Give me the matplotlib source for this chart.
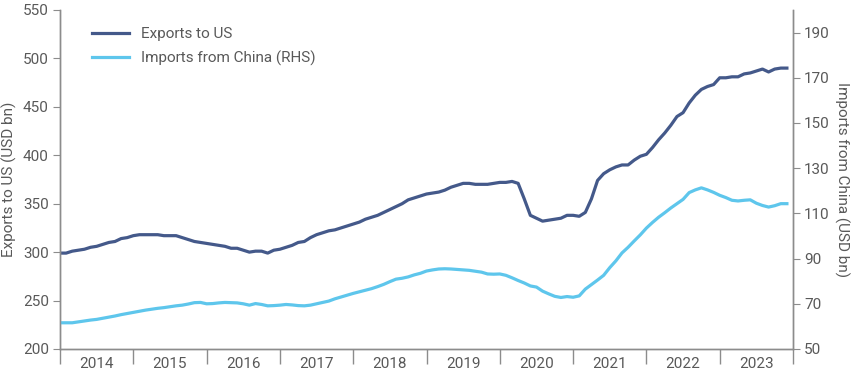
import numpy as np
import matplotlib.pyplot as plt

plt.rcParams['font.family'] = ['Liberation Sans Narrow', 'Roboto', 'DejaVu Sans']

years = list(range(2014, 2024))

# monthly, Jan 2014 - Dec 2023
exports_us = [
    299, 299, 301, 302, 303, 305, 306, 308, 310, 311, 314, 315,
    317, 318, 318, 318, 318, 317, 317, 317, 315, 313, 311, 310,
    309, 308, 307, 306, 304, 304, 302, 300, 301, 301, 299, 302,
    303, 305, 307, 310, 311, 315, 318, 320, 322, 323, 325, 327,
    329, 331, 334, 336, 338, 341, 344, 347, 350, 354, 356, 358,
    360, 361, 362, 364, 367, 369, 371, 371, 370, 370, 370, 371,
    372, 372, 373, 371, 355, 338, 335, 332, 333, 334, 335, 338,
    338, 337, 341, 355, 374, 381, 385, 388, 390, 390, 395, 399,
    401, 408, 416, 423, 431, 440, 444, 454, 462, 468, 471, 473,
    480, 480, 481, 481, 484, 485, 487, 489, 486, 489, 490, 490,
]

imports_china = [
    61.6, 61.6, 61.6, 62.0, 62.4, 62.8, 63.1, 63.6, 64.1, 64.6, 65.2, 65.7,
    66.2, 66.7, 67.2, 67.6, 68.0, 68.3, 68.7, 69.1, 69.4, 69.9, 70.5, 70.6,
    70.0, 70.1, 70.4, 70.6, 70.5, 70.4, 70.0, 69.4, 70.1, 69.7, 69.1, 69.2,
    69.4, 69.7, 69.5, 69.2, 69.1, 69.4, 70.0, 70.6, 71.2, 72.2, 73.0, 73.8,
    74.6, 75.3, 76.0, 76.7, 77.6, 78.6, 79.8, 80.9, 81.3, 81.9, 82.8, 83.5,
    84.5, 85.0, 85.4, 85.5, 85.4, 85.2, 85.0, 84.8, 84.4, 84.0, 83.2, 83.1,
    83.2, 82.6, 81.5, 80.3, 79.2, 77.9, 77.4, 75.6, 74.4, 73.3, 72.8, 73.2,
    72.9, 73.5, 76.5, 78.5, 80.5, 82.6, 86.0, 89.0, 92.5, 95.0, 97.8, 100.5,
    103.5, 106.0, 108.3, 110.3, 112.4, 114.3, 116.2, 119.2, 120.4, 121.3, 120.4, 119.3,
    118.0, 117.0, 115.8, 115.5, 115.8, 116.0, 114.5, 113.5, 112.8, 113.4, 114.3, 114.3,
]

t = 2014 + np.arange(len(exports_us)) / 12

dark = '#44598a'
light = '#5ec6ec'
grey = '#595959'
spine = '#8c8c8c'

fig = plt.figure(figsize=(8.55, 3.81), dpi=100)
ax = fig.add_axes([0.0702, 0.084, 0.8573, 0.8898])
ax2 = ax.twinx()

l1, = ax.plot(t, exports_us, color=dark, lw=2.3, label='Exports to US')
l2, = ax2.plot(t, imports_china, color=light, lw=2.3, label='Imports from China (RHS)')

ax.set_xlim(2014, 2024)
ax.set_ylim(200, 550)
ax2.set_ylim(50, 200)
ax.set_yticks(range(200, 551, 50))
ax2.set_yticks(range(50, 191, 20))

ax.set_xticks(range(2014, 2025))
ax.set_xticklabels([])
ax.set_xticks([y + 0.5 for y in years], minor=True)
ax.set_xticklabels([str(y) for y in years], minor=True)
ax.tick_params(axis='x', which='major', length=11, color=spine, width=1)
ax.tick_params(axis='x', which='minor', length=0, pad=6, labelsize=11, labelcolor=grey)
ax.tick_params(axis='y', length=5, color=spine, labelsize=11, labelcolor=grey, pad=3)
ax2.tick_params(axis='y', length=5, color=spine, labelsize=11, labelcolor=grey, pad=3)

for a in (ax, ax2):
    a.spines['top'].set_visible(False)
    for s in ('left', 'right', 'bottom'):
        a.spines[s].set_color(spine)
        a.spines[s].set_linewidth(1)

ax.set_ylabel('Exports to US (USD bn)', color=grey, fontsize=11, labelpad=4)
ax2.set_ylabel('Imports from China (USD bn)', color=grey, fontsize=11,
               rotation=270, labelpad=14)

leg = ax.legend(handles=[l1, l2], loc='upper left', bbox_to_anchor=(0.025, 0.99),
                frameon=False, fontsize=11, handlelength=2.4, labelspacing=0.6)
for txt in leg.get_texts():
    txt.set_color(grey)

fig.savefig('out.png', dpi=100)
